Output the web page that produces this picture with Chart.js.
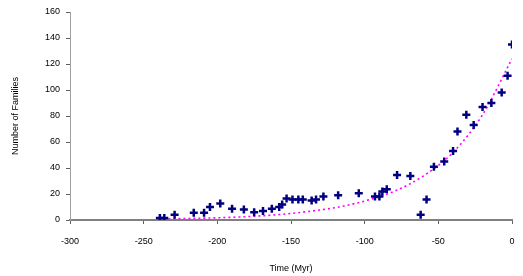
<!DOCTYPE html>
<html>
<head>
<meta charset="utf-8">
<script src="https://cdn.jsdelivr.net/npm/chart.js@4.4.0/dist/chart.umd.min.js"></script>
<style>
html,body{margin:0;padding:0;background:#fff;}
#wrap{width:523px;height:276px;}
</style>
</head>
<body>
<div id="wrap"><canvas id="c" width="523" height="276"></canvas></div>
<script>
// Observed data (Time in Myr, Number of families)
const timeMyr = [-239,-236,-229,-216,-209,-205,-198,-190,-182,-175,-169,-163,-158,-156,-153,-149,-145,-142,-136,-133,-128,-118,-104,-93,-90,-88,-85,-78,-69,-62,-58,-53,-46,-40,-37,-31,-26,-20,-14,-7,-3,0];
const families = [1.5,1.5,4,5.5,5.5,10,12.6,8.7,8,6,7,8.7,10,12,16.5,15.7,15.7,15.7,15,15.7,18,19,20.5,18,18,22,23.6,34.6,33.8,4,15.7,41,45,53,68,81,73,87,90,98,111,135];
// Trend curve
const trendTime = [-240,-220,-200,-180,-160,-140,-120,-100,-80,-60,-40,-20,0];
const trendValue = [0.8,1.2,1.7,2.6,4,6.3,9.5,14.6,22,34,52,81,124];
// Axis ticks
const xTicks = [-300,-250,-200,-150,-100,-50,0];
const yTicks = [0,20,40,60,80,100,120,140,160];

const pts = timeMyr.map((t,i)=>({x:t,y:families[i]}));
const trend = trendTime.map((t,i)=>({x:t,y:trendValue[i]}));
const font = {family:'"Liberation Sans", Arial, sans-serif', size:9};

new Chart(document.getElementById('c'), {
  type:'scatter',
  data:{datasets:[
    {data:trend, type:'line', showLine:true, borderColor:'#ff00ff', borderWidth:1.6, borderDash:[2,3],
     pointRadius:0, fill:false, tension:0.4, cubicInterpolationMode:'monotone', order:2},
    {data:pts, pointStyle:'cross', pointRadius:4, borderColor:'#000080', backgroundColor:'#000080',
     pointBorderWidth:2.5, borderWidth:2.5, order:1}
  ]},
  options:{
    responsive:false, animation:false,
    layout:{padding:{top:12,right:11,left:0,bottom:0}},
    plugins:{legend:{display:false},tooltip:{enabled:false}},
    scales:{
      x:{type:'linear', min:-300, max:0,
        afterBuildTicks:(s)=>{s.ticks=xTicks.map(v=>({value:v}));},
        afterFit:(s)=>{s.height=56; s.paddingRight=0; s.paddingLeft=0;},
        ticks:{color:'#000',font:font,padding:12,maxRotation:0},
        grid:{drawOnChartArea:false, drawTicks:true, tickLength:4, color:'#606060'},
        border:{color:'#808080', width:2},
        title:{display:true,text:'Time (Myr)',color:'#000',font:font,padding:{top:8,bottom:2}}
      },
      y:{type:'linear', min:0, max:160,
        afterBuildTicks:(s)=>{s.ticks=yTicks.map(v=>({value:v}));},
        afterFit:(s)=>{s.width=70;},
        ticks:{color:'#000',font:font,padding:6},
        grid:{drawOnChartArea:false, drawTicks:true, tickLength:4, color:'#606060'},
        border:{color:'#a0a0a0', width:1},
        title:{display:true,text:'Number of Families',color:'#000',font:font,padding:{top:10,bottom:6}}
      }
    }
  }
});
</script>
</body>
</html>
